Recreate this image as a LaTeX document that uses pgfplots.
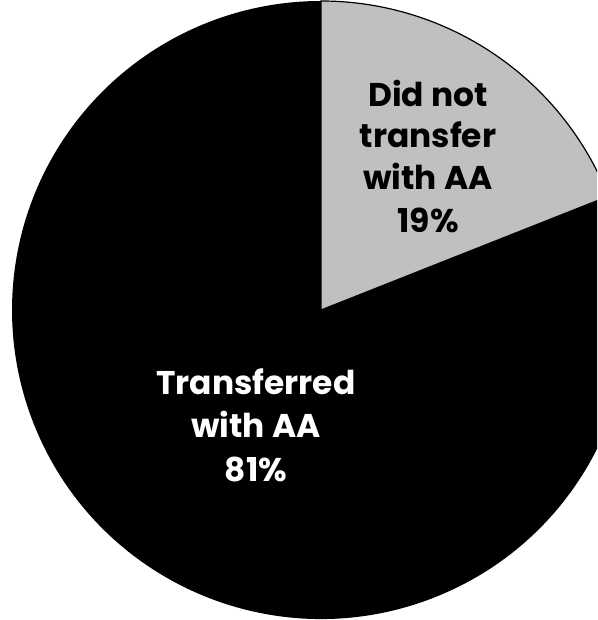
\documentclass[border=0pt]{standalone}
\usepackage{pgfplots}
\pgfplotsset{compat=1.18}
\usepackage{fontspec}
\setmainfont{Poppins}
\definecolor{slicegray}{RGB}{192,192,192}
% data (percent)
\def\valNot{19}
\def\valYes{81}
\begin{document}
\begin{tikzpicture}
\pgfmathsetmacro\angEnd{90-3.6*\valNot}
\pgfmathsetmacro\angLow{\angEnd-3.6*\valYes}
\begin{axis}[
  scale only axis, width=597bp, height=620bp,
  xmin=0, xmax=597, ymin=0, ymax=620,
  hide axis, clip=true,
]
\fill[black] (axis cs:321,310) -- ++(\angEnd:309bp) arc[start angle=\angEnd, end angle=\angLow, radius=309bp] -- cycle;
\filldraw[fill=slicegray, draw=black, line width=1.2bp] (axis cs:321,310) -- ++(90:309bp) arc[start angle=90, end angle=\angEnd, radius=309bp] -- cycle;
\begin{scope}[every node/.style={anchor=base, font=\fontsize{33}{38}\selectfont\bfseries, inner sep=0pt}]
\node[text=black] at (axis cs:428,513) {Did not};
\node[text=black] at (axis cs:428,472) {transfer};
\node[text=black] at (axis cs:428,430) {with AA};
\node[text=black] at (axis cs:428,387) {\valNot\%};
\node[text=white] at (axis cs:256,225) {Transferred};
\node[text=white] at (axis cs:256,182) {with AA};
\node[text=white] at (axis cs:256,138) {\valYes\%};
\end{scope}
\end{axis}
\pgfresetboundingbox
\useasboundingbox (current axis.south west) rectangle (current axis.north east);
\end{tikzpicture}
\end{document}
